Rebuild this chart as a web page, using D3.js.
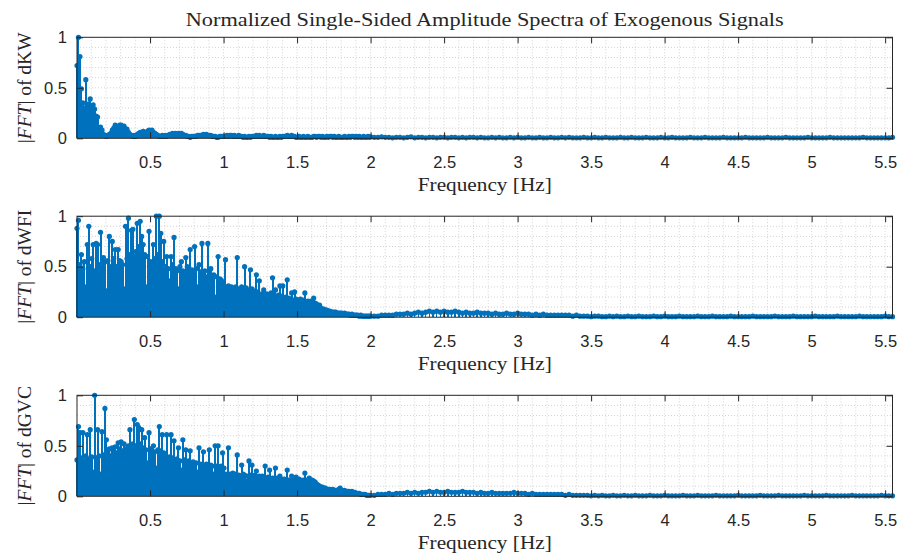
<!DOCTYPE html>
<meta charset="utf-8">
<style>
body { margin: 0; background: #fff; }
text { fill: #262626; }
.axis text { font: 16.5px "Liberation Sans", Arial, sans-serif; fill: #262626; }
.axis line { stroke: #262626; }
.axis path { display: none; }
.grid line { stroke: #d4d4d4; stroke-dasharray: 1,2; }
.stem { shape-rendering: crispEdges; }
</style>
<svg width="901" height="556"></svg>
<script src="https://d3js.org/d3.v7.min.js"></script>
<script>

// amplitude in percent of max; low band bins 0.003 + i*0.01 Hz, tail bins 2.0 + i*0.025 Hz
var lowStart = 0.003, lowStep = 0.01, tailStart = 2.0, tailStep = 0.025;

var dkwLow = [72,100,81,49,35,30,58,32,34,39, 30,33,29,22,21,9,11,8,4,3,
  2,3,4,5,8,10,13,9,11,13, 13,10,12,9,9,6,4,3,2,3, 2,4,5,6,5,7,6,6,7,8,
  7,8,6,5,4,3,2,2,3,2, 3,2,3,4,4,5,4,5,4,5, 4,5,4,3,3,2,2,1,2,2,
  2,2,3,3,3,3,4,3,4,3, 3,3,2,2,2,1,1,2,2,2,
  2,2,3,2,3,3,2,3,2,2, 3,2,2,1,2,1,1,2,1,2, 2,2,3,2,3,2,2,3,2,2,
  2,1,2,1,1,2,1,1,2,1, 2,2,2,3,2,2,3,2,2,1, 1,2,1,1,2,1,1,2,1,1,
  1,2,2,1,2,2,1,2,1,1, 2,1,2,2,1,2,1,1,2,1, 1,1,2,1,1,2,1,2,2,1,
  2,1,2,1,1,2,1,1,2,1];
var dkwTail = [1.5,1,1,1.5,1,1,0.5,1,1,0.5, 1,1.5,0.5,1,1,0.5,1,1,0.5,1,
  1,0.5,1,1,0.5,1,0.5,1,1,0.5, 1,0.5,0.5,1,0.5,1,0.5,0.5,1,0.5,
  1,0.5,0.5,1,0.5,0.5,1,0.5,0.5,1, 0.5,0.5,1,0.5,1,0.5,0.5,0.5,1,0.5,
  0.5,1,0.5,0.5,1,0.5,0.5,0.5,1,0.5, 0.5,1,0.5,0.5,0.5,1,0.5,0.5,0.5,1,
  0.5,0.5,1,0.5,0.5,0.5,0.5,1,0.5,0.5, 0.5,1,0.5,0.5,0.5,0.5,1,0.5,0.5,0.5,
  0.5,0.5,1,0.5,0.5,0.5,0.5,0.5,1,0.5, 0.5,0.5,0.5,1,0.5,0.5,0.5,0.5,0.5,1,
  0.5,0.5,0.5,0.5,0.5,1,0.5,0.5,0.5,0.5, 0.5,0.5,0.5,0.5,1,0.5,0.5,0.5,0.5,0.5,
  0.5,0.5,1];

var dwfiLow = [88,96,52,62,48,55,30,72,90,50, 58,72,46,73,72,52,84,48,59,55,
  26,56,80,50,75,58,67,50,67,56, 55,52,28,90,58,98,62,86,87,60,
  65,93,70,95,80,72,62,30,60,85, 55,52,72,58,100,62,100,83,55,75,
  50,60,48,36,60,52,79,48,46,28, 50,55,46,44,59,50,46,67,47,45,
  70,48,30,52,45,73,44,46,40,73, 44,48,40,42,20,40,60,38,37,35,
  30,57,29,31,28,30,27,29,30,59, 28,27,30,26,50,29,27,25,47,28,
  26,24,42,25,36,22,23,27,21,23, 22,20,24,39,21,27,20,22,31,21,
  31,19,20,37,19,18,24,17,25,18, 17,16,18,16,17,24,15,16,15,16,
  15,19,14,13,11,12,9,8,8,7, 7,6,6,5,5,5,5,4,4,4,
  4,3,4,3,3,3,2,3,2,2, 2,2,1,2,1,1,1,1,1,1];
var dwfiTail = [1,1,1,2,2,2,2,3,3,3, 4,3,4,5,4,5,6,5,6,5,
  6,5,5,6,5,4,5,4,4,5, 4,4,4,3,4,3,3,4,3,3,
  4,3,3,3,2,3,2,3,2,2, 2,2,2,2,2,1,2,1,1,1,
  0.5,1,1,0.5,0.5,1,0.5,1,0.5,0.5, 1,0.5,0.5,1,0.5,0.5,0.5,1,0.5,0.5,
  1,0.5,0.5,0.5,1,0.5,0.5,0.5,0.5,1, 0.5,0.5,0.5,1,0.5,0.5,0.5,0.5,1,0.5,
  0.5,0.5,0.5,0.5,1,0.5,0.5,0.5,0.5,0.5, 1,0.5,0.5,0.5,0.5,1,0.5,0.5,0.5,0.5,
  0.5,1,0.5,0.5,0.5,0.5,0.5,1,0.5,0.5, 0.5,0.5,0.5,1,0.5,0.5,0.5,0.5,0.5,0.5,
  1,0.5,0.5];

var dgvcLow = [36,69,63,38,63,35,40,61,37,66, 39,24,100,38,66,40,22,64,41,87,
  56,44,47,40,48,45,49,43,53,47, 54,45,52,47,30,50,66,48,52,76,
  50,71,68,52,66,48,58,46,33,63, 47,45,50,44,28,46,69,45,61,43,
  40,61,37,39,61,38,55,36,37,48, 35,26,56,36,46,34,35,45,33,34,
  32,33,24,48,32,31,44,30,32,29, 46,31,30,22,50,30,50,29,30,43,
  28,22,21,48,22,20,23,21,22,41, 21,20,31,22,21,15,20,35,21,31,
  20,21,25,19,20,18,20,19,30,18, 19,26,17,18,17,28,18,16,20,17,
  16,17,15,26,16,15,20,16,15,19, 16,17,16,15,16,23,16,15,18,15,
  16,15,14,12,11,10,9,9,8,8, 7,7,7,6,7,6,6,6,7,8,
  6,5,6,5,5,5,4,5,4,4, 3,3,3,2,2,2,2,1,1,1];
var dgvcTail = [1,1,2,2,2,3,2,3,3,3, 4,3,4,3,4,4,5,4,5,4,
  4,5,4,4,4,5,4,4,4,3, 4,3,3,4,3,3,3,3,3,4,
  3,3,3,2,3,2,2,2,2,2, 2,2,2,1,2,1,1,1,1,1,
  0.5,1,0.5,1,0.5,0.5,1,0.5,0.5,1, 0.5,0.5,1,0.5,0.5,0.5,1,0.5,0.5,0.5,
  1,0.5,0.5,0.5,0.5,1,0.5,0.5,0.5,1, 0.5,0.5,0.5,0.5,1,0.5,0.5,0.5,0.5,0.5,
  1,0.5,0.5,0.5,0.5,0.5,1,0.5,0.5,0.5, 0.5,1,0.5,0.5,0.5,0.5,0.5,0.5,1,0.5,
  0.5,0.5,0.5,0.5,1,0.5,0.5,0.5,0.5,0.5, 0.5,1,0.5,0.5,0.5,0.5,0.5,0.5,0.5,1,
  0.5,0.5,0.5];

var signalNames = ["dKW", "dWFI", "dGVC"];
var xTicks = [0.5, 1, 1.5, 2, 2.5, 3, 3.5, 4, 4.5, 5, 5.5];
var xTickLabels = ["0.5", "1", "1.5", "2", "2.5", "3", "3.5", "4", "4.5", "5", "5.5"];
var yTicks = [0, 0.5, 1];
var yTickLabels = ["0", "0.5", "1"];

var panels = [[dkwLow, dkwTail], [dwfiLow, dwfiTail], [dgvcLow, dgvcTail]];

var svg = d3.select("svg"),
    left = 77, right = 892.5, plotH = 101,
    tops = [37.3, 216.2, 395.3],
    blue = "#0072BD",
    serif = "'Liberation Serif', serif";

var x = d3.scaleLinear().domain([0.003, 5.55]).range([left, right]);

svg.append("text")
    .attr("font-family", serif)
    .attr("x", (left + right) / 2)
    .attr("y", 25.5)
    .attr("text-anchor", "middle")
    .attr("font-size", 19)
    .attr("textLength", 598)
    .attr("lengthAdjust", "spacingAndGlyphs")
    .text("Normalized Single-Sided Amplitude Spectra of Exogenous Signals");

panels.forEach(function(p, k) {
  var top = tops[k], bottom = top + plotH;
  var y = d3.scaleLinear().domain([0, 1]).range([bottom, top]);
  var g = svg.append("g");

  var pts = p[0].map(function(v, i) { return {f: lowStart + i * lowStep, a: v / 100, w: 2}; })
    .concat(p[1].map(function(v, i) { return {f: tailStart + i * tailStep, a: v / 100, w: 1.5}; }));

  // dotted grid, 0.1 spacing both ways
  var grid = g.append("g").attr("class", "grid");
  grid.selectAll(".gx").data(d3.range(1, 56)).enter().append("line")
      .attr("x1", function(d) { return x(d / 10); })
      .attr("x2", function(d) { return x(d / 10); })
      .attr("y1", top).attr("y2", bottom);
  grid.selectAll(".gy").data(d3.range(1, 10)).enter().append("line")
      .attr("x1", left).attr("x2", right)
      .attr("y1", function(d) { return y(d / 10); })
      .attr("y2", function(d) { return y(d / 10); });

  g.selectAll(".stem").data(pts).enter().append("line")
      .attr("class", "stem")
      .attr("x1", function(d) { return x(d.f); })
      .attr("x2", function(d) { return x(d.f); })
      .attr("y1", y(0))
      .attr("y2", function(d) { return y(d.a); })
      .attr("stroke", blue)
      .attr("stroke-width", function(d) { return d.w; });

  g.selectAll(".mk").data(pts).enter().append("circle")
      .attr("cx", function(d) { return x(d.f); })
      .attr("cy", function(d) { return y(d.a); })
      .attr("r", 2.6)
      .attr("fill", blue);

  g.append("g").attr("class", "axis")
      .attr("transform", "translate(0," + bottom + ")")
      .call(d3.axisBottom(x).tickValues(xTicks).tickSizeInner(-6).tickSizeOuter(0).tickPadding(18)
        .tickFormat(function(d, i) { return xTickLabels[i]; }));
  g.append("g").attr("class", "axis")
      .attr("transform", "translate(0," + top + ")")
      .call(d3.axisTop(x).tickValues(xTicks).tickSizeInner(-6).tickSizeOuter(0).tickFormat(""));
  g.append("g").attr("class", "axis")
      .attr("transform", "translate(" + left + ",0)")
      .call(d3.axisLeft(y).tickValues(yTicks).tickSizeInner(-6).tickSizeOuter(0).tickPadding(10)
        .tickFormat(function(d, i) { return yTickLabels[i]; }));
  g.append("g").attr("class", "axis")
      .attr("transform", "translate(" + right + ",0)")
      .call(d3.axisRight(y).tickValues(yTicks).tickSizeInner(-6).tickSizeOuter(0).tickFormat(""));

  g.append("rect")
      .attr("x", left).attr("y", top)
      .attr("width", right - left).attr("height", plotH)
      .attr("fill", "none").attr("stroke", "#262626").attr("stroke-width", 1);

  g.append("text")
      .attr("font-family", serif)
      .attr("x", (left + right) / 2)
      .attr("y", bottom + 53)
      .attr("text-anchor", "middle")
      .attr("font-size", 19.5)
      .attr("textLength", 134)
      .attr("lengthAdjust", "spacingAndGlyphs")
      .text("Frequency [Hz]");

  var yl = g.append("text")
      .attr("font-family", serif)
      .attr("transform", "translate(31," + (top + plotH / 2) + ") rotate(-90)")
      .attr("text-anchor", "middle")
      .attr("font-size", 19.5);
  yl.append("tspan").text("|");
  yl.append("tspan").attr("font-style", "italic").text("FFT");
  yl.append("tspan").text("| of " + signalNames[k]);
});

</script>
